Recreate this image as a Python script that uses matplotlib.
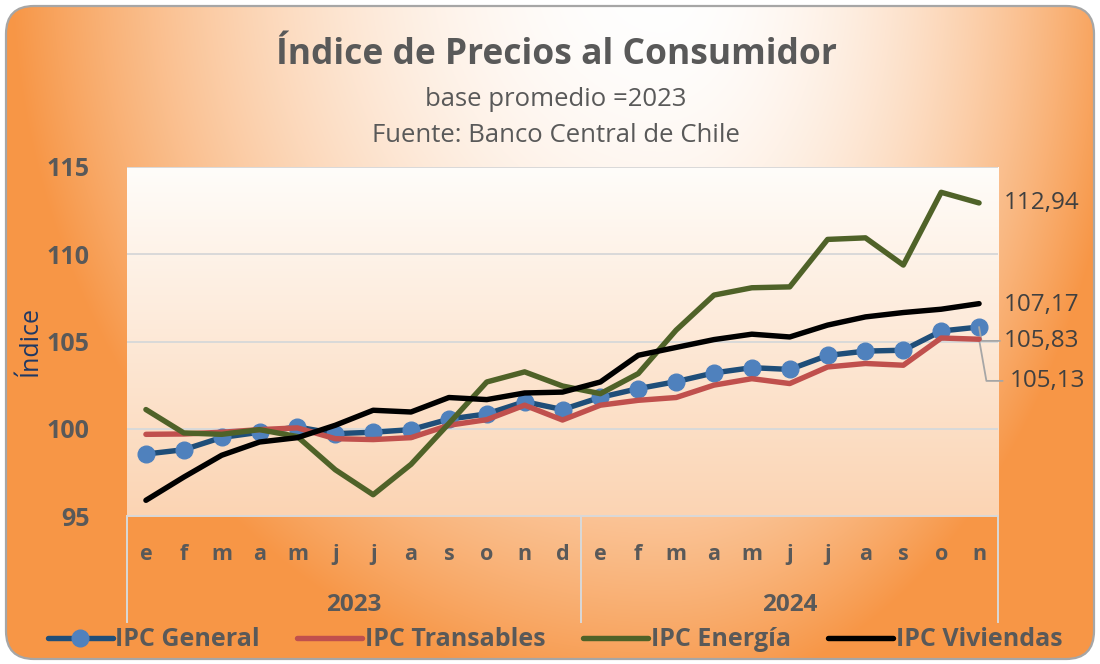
import numpy as np
import matplotlib
matplotlib.use("Agg")
import matplotlib.pyplot as plt
from matplotlib.patches import FancyBboxPatch
from matplotlib.lines import Line2D
import matplotlib.transforms as mtransforms

plt.rcParams['font.family'] = ['Open Sans', 'DejaVu Sans']

# ---------------- data ----------------
months_2023 = ['e', 'f', 'm', 'a', 'm', 'j', 'j', 'a', 's', 'o', 'n', 'd']
months_2024 = ['e', 'f', 'm', 'a', 'm', 'j', 'j', 'a', 's', 'o', 'n']
years = ['2023', '2024']

ipc_general = [98.55, 98.80, 99.50, 99.80, 100.10, 99.72, 99.80, 99.95, 100.55, 100.85, 101.55, 101.10,
               101.80, 102.30, 102.70, 103.20, 103.50, 103.40, 104.20, 104.45, 104.50, 105.60, 105.83]
ipc_transables = [99.68, 99.70, 99.80, 99.95, 100.05, 99.43, 99.38, 99.49, 100.20, 100.52, 101.35, 100.50,
                  101.35, 101.63, 101.79, 102.50, 102.87, 102.59, 103.54, 103.74, 103.64, 105.20, 105.13]
ipc_energia = [101.10, 99.76, 99.68, 99.95, 99.55, 97.65, 96.22, 97.96, 100.30, 102.68, 103.26, 102.45,
               102.01, 103.16, 105.65, 107.66, 108.08, 108.13, 110.85, 110.94, 109.38, 113.55, 112.94]
ipc_viviendas = [95.90, 97.23, 98.48, 99.24, 99.49, 100.20, 101.06, 100.96, 101.79, 101.67, 102.05, 102.10,
                 102.68, 104.21, 104.66, 105.11, 105.42, 105.26, 105.94, 106.41, 106.66, 106.85, 107.17]

series_names = ['IPC General', 'IPC Transables', 'IPC Energía', 'IPC Viviendas']
y_ticks = [95, 100, 105, 110, 115]

title = 'Índice de Precios al Consumidor'
subtitle1 = 'base promedio =2023'
subtitle2 = 'Fuente: Banco Central de Chile'
y_label = 'Índice'

# ---------------- styling ----------------
W, H = 1100, 664
fig = plt.figure(figsize=(W / 100, H / 100), dpi=100)
fig.patch.set_alpha(0)

GRAY = '#595959'
ORANGE = np.array([247, 150, 70]) / 255.0

# background with radial gradient, rounded border
bg = fig.add_axes([0, 0, 1, 1], zorder=-10)
bg.set_xlim(0, W)
bg.set_ylim(H, 0)
bg.axis('off')
yy, xx = np.mgrid[0:H, 0:W].astype(float)
cx, cy = 660.0, -40.0
rx = np.where(xx < cx, 650.0, 470.0)
ry = 740.0
t = np.sqrt(((xx - cx) / rx) ** 2 + ((yy - cy) / ry) ** 2)
s = np.clip(t, 0, 1) ** 2
img = (1 - s)[..., None] * np.array([1.0, 1.0, 1.0]) + s[..., None] * ORANGE
box = FancyBboxPatch((6, 6), W - 12, H - 11, boxstyle='round,pad=0,rounding_size=28',
                     transform=bg.transData, facecolor='none', edgecolor='#A6A6A6', lw=1.6, zorder=3)
im = bg.imshow(img, extent=(0, W, H, 0), aspect='auto', zorder=1)
im.set_clip_path(box)
bg.add_patch(box)

# plot area
left, right, top, bottom = 127, 998, 167, 516
ax = fig.add_axes([left / W, 1 - bottom / H, (right - left) / W, (bottom - top) / H])
ax.set_facecolor('none')
n = len(ipc_general)
x = np.arange(n)
ax.set_xlim(-0.5, n - 0.5)
ax.set_ylim(95, 115)

# vertical gradient inside the plot area
grad = np.linspace(0, 1, 256)[:, None]
top_c = np.array([255, 253, 250]) / 255.0
bot_c = np.array([251, 212, 179]) / 255.0
gimg = (1 - grad)[..., None] * top_c + grad[..., None] * bot_c
gimg = np.repeat(gimg, 2, axis=1)
ax.imshow(gimg, extent=(-0.5, n - 0.5, 95, 115), aspect='auto', zorder=0)

for s_ in ax.spines.values():
    s_.set_visible(False)
ax.set_yticks(y_ticks)
ax.yaxis.grid(True, color='#D9D9D9', lw=1.4, zorder=1)
ax.set_axisbelow(True)
ax.tick_params(axis='y', length=0, pad=27, labelsize=18, labelcolor=GRAY)
for lab in ax.get_yticklabels():
    lab.set_fontweight('bold')
ax.set_xticks(x)
ax.set_xticklabels(months_2023 + months_2024, fontsize=15.5, fontweight='bold', color=GRAY)
ax.tick_params(axis='x', length=0, pad=20)
ax.axhline(95, color='#D9D9D9', lw=1.4, zorder=1, clip_on=False)

# category group dividers and year labels
trans = mtransforms.blended_transform_factory(ax.transData, ax.transAxes)
div_bottom = -(622 - bottom) / (bottom - top)
for xd in [-0.5, len(months_2023) - 0.5, n - 0.5]:
    ax.plot([xd, xd], [0, div_bottom], transform=trans, color='#D9D9D9', lw=1.4, clip_on=False)
year_y = -(605 - bottom) / (bottom - top)
ax.text((len(months_2023) - 1) / 2, year_y, years[0], transform=trans, ha='center', va='center',
        fontsize=17.5, fontweight='bold', color=GRAY)
ax.text(len(months_2023) + (len(months_2024) - 1) / 2, year_y, years[1], transform=trans, ha='center',
        va='center', fontsize=17.5, fontweight='bold', color=GRAY)

ax.set_ylabel(y_label, fontsize=18, color='#1F3864')
ax.yaxis.set_label_coords(-(127 - 30) / (right - left), 0.5)
ax.yaxis.label.set_va('center')

# series
lw = 3.9
l1, = ax.plot(x, ipc_general, color='#1F4E79', lw=lw, marker='o', markersize=12,
              markerfacecolor='#4F81BD', markeredgecolor='#4F81BD', zorder=3, solid_capstyle='round')
l2, = ax.plot(x, ipc_transables, color='#C0504D', lw=lw, zorder=4, solid_capstyle='round')
l3, = ax.plot(x, ipc_energia, color='#4F6228', lw=lw, zorder=5, solid_capstyle='round')
l4, = ax.plot(x, ipc_viviendas, color='black', lw=lw, zorder=6, solid_capstyle='round')

# last value labels
def fmt(v):
    return f'{v:.2f}'.replace('.', ',')

lab_kw = dict(textcoords='offset points', ha='left', va='center', fontsize=17.5, color='#404040',
              annotation_clip=False)
ax.annotate(fmt(ipc_energia[-1]), (x[-1], ipc_energia[-1]), xytext=(18, 0), **lab_kw)
ax.annotate(fmt(ipc_viviendas[-1]), (x[-1], ipc_viviendas[-1]), xytext=(18, -1), **lab_kw)
ax.annotate(fmt(ipc_general[-1]), (x[-1], ipc_general[-1]), xytext=(18, -10),
            arrowprops=dict(arrowstyle='-', color='#A6A6A6', lw=1.3, shrinkA=1, shrinkB=0,
                            relpos=(0, 0.5), connectionstyle='angle,angleA=180,angleB=100,rad=0'),
            **lab_kw)
ax.annotate(fmt(ipc_transables[-1]), (x[-1], ipc_transables[-1]), xytext=(22, -30),
            arrowprops=dict(arrowstyle='-', color='#A6A6A6', lw=1.3, shrinkA=3, shrinkB=0,
                            relpos=(0, 0.5), connectionstyle='angle,angleA=180,angleB=100,rad=0'),
            **lab_kw)

# titles
fig.text(556 / W, 1 - 55 / H, title, ha='center', va='center', fontsize=25.5, fontweight='bold', color=GRAY)
fig.text(556 / W, 1 - 100 / H, subtitle1, ha='center', va='center', fontsize=18.5, color=GRAY)
fig.text(556 / W, 1 - 136 / H, subtitle2, ha='center', va='center', fontsize=18.5, color=GRAY)

# legend
handles = [Line2D([], [], color='#1F4E79', lw=lw, marker='o', markersize=12,
                  markerfacecolor='#4F81BD', markeredgecolor='#4F81BD', solid_capstyle='round'),
           Line2D([], [], color='#C0504D', lw=lw, solid_capstyle='round'),
           Line2D([], [], color='#4F6228', lw=lw, solid_capstyle='round'),
           Line2D([], [], color='black', lw=lw, solid_capstyle='round')]
leg = fig.legend(handles, series_names, loc='center', bbox_to_anchor=(555 / W, 1 - 640 / H), ncol=4,
                 frameon=False, handlelength=2.6, handletextpad=0.1, columnspacing=1.5,
                 prop={'weight': 'bold', 'size': 18})
for txt in leg.get_texts():
    txt.set_color(GRAY)

fig.savefig('out.png', dpi=100)
